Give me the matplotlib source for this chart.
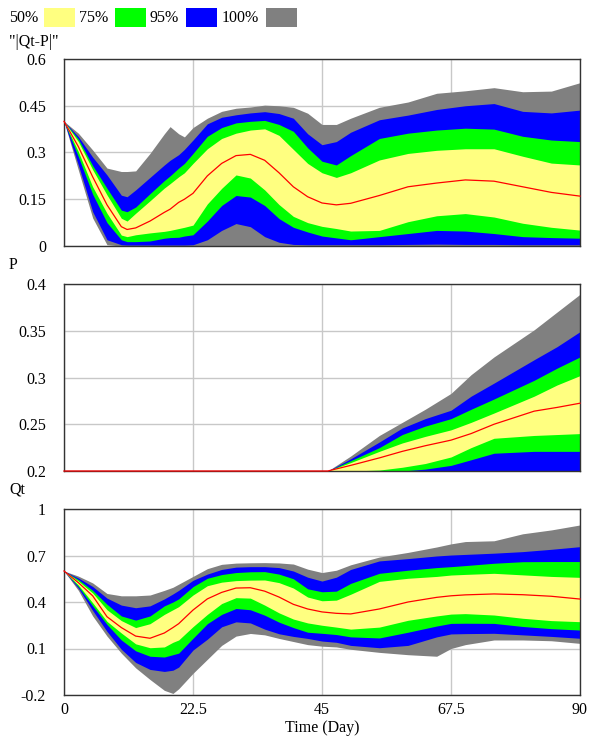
import matplotlib
matplotlib.use("Agg")
import matplotlib.pyplot as plt
from matplotlib.patches import Rectangle

plt.rcParams['font.family'] = ['Liberation Serif', 'DejaVu Serif']

# ---------------- data ----------------
LEVELS = ["50%", "75%", "95%", "100%"]
BAND_COLORS = ["#FFFF80", "#00FF00", "#0000FF", "#808080"]
MEDIAN_COLOR = "#FF0000"

X_TICKS = [0, 22.5, 45, 67.5, 90]
X_TICK_LABELS = ["0", "22.5", "45", "67.5", "90"]
X_LABEL = "Time (Day)"

# Panel 1: "|Qt-P|"
T1 = [0, 2.5, 5, 7.5, 10, 11, 12.5, 15, 17.5, 18.5, 20, 21, 22.5, 25, 27.5, 30,
      32.5, 35, 37.5, 40, 42.5, 45, 47.5, 50, 55, 60, 65, 70, 75, 80, 85, 90]
A_100_HI = [0.4, 0.362, 0.308, 0.25, 0.239, 0.239, 0.241, 0.297, 0.36, 0.383, 0.36, 0.35, 0.38, 0.41, 0.432, 0.442,
            0.446, 0.452, 0.45, 0.445, 0.426, 0.39, 0.39, 0.41, 0.445, 0.462, 0.49, 0.498, 0.508, 0.495, 0.497, 0.524]
A_95_HI = [0.4, 0.351, 0.285, 0.228, 0.163, 0.158, 0.18, 0.22, 0.26, 0.275, 0.293, 0.31, 0.34, 0.392, 0.413, 0.421,
           0.427, 0.431, 0.425, 0.41, 0.36, 0.325, 0.335, 0.365, 0.405, 0.42, 0.438, 0.45, 0.457, 0.432, 0.427, 0.436]
A_75_HI = [0.4, 0.343, 0.258, 0.185, 0.115, 0.11, 0.125, 0.168, 0.21, 0.225, 0.25, 0.265, 0.297, 0.352, 0.38, 0.395,
           0.4, 0.403, 0.39, 0.368, 0.315, 0.272, 0.26, 0.29, 0.345, 0.362, 0.372, 0.378, 0.375, 0.352, 0.34, 0.335]
A_50_HI = [0.4, 0.335, 0.245, 0.164, 0.089, 0.08, 0.105, 0.145, 0.186, 0.2, 0.222, 0.235, 0.265, 0.312, 0.345, 0.362,
           0.372, 0.376, 0.355, 0.31, 0.265, 0.235, 0.22, 0.235, 0.276, 0.297, 0.307, 0.312, 0.312, 0.288, 0.266, 0.26]
A_MED = [0.4, 0.319, 0.222, 0.132, 0.062, 0.053, 0.058, 0.08, 0.108, 0.118, 0.14, 0.15, 0.169, 0.225, 0.265, 0.29,
         0.294, 0.275, 0.235, 0.19, 0.158, 0.138, 0.132, 0.137, 0.162, 0.19, 0.202, 0.212, 0.208, 0.19, 0.172, 0.16]
A_50_LO = [0.4, 0.303, 0.19, 0.105, 0.035, 0.03, 0.036, 0.042, 0.047, 0.05, 0.056, 0.06, 0.067, 0.135, 0.185, 0.228,
           0.218, 0.18, 0.133, 0.095, 0.075, 0.063, 0.056, 0.048, 0.05, 0.078, 0.097, 0.104, 0.093, 0.073, 0.06, 0.051]
A_75_LO = [0.4, 0.287, 0.166, 0.075, 0.02, 0.014, 0.014, 0.016, 0.025, 0.027, 0.028, 0.032, 0.036, 0.08, 0.13, 0.162,
           0.157, 0.13, 0.088, 0.06, 0.045, 0.032, 0.026, 0.02, 0.03, 0.04, 0.05, 0.048, 0.04, 0.03, 0.027, 0.025]
A_95_LO = [0.4, 0.26, 0.11, 0.02, 0.004, 0.003, 0.003, 0.003, 0.003, 0.003, 0.003, 0.003, 0.004, 0.02, 0.05, 0.072,
           0.062, 0.03, 0.012, 0.005, 0.004, 0.004, 0.004, 0.004, 0.004, 0.005, 0.006, 0.005, 0.005, 0.004, 0.004, 0.004]
A_100_LO = [0.4, 0.244, 0.09, 0.004, 0, 0, 0, 0, 0, 0, 0, 0, 0, 0, 0, 0,
            0, 0, 0, 0, 0, 0, 0, 0, 0, 0, 0, 0, 0, 0, 0, 0]
A_TICKS = [0, 0.15, 0.3, 0.45, 0.6]
A_TICK_LABELS = ["0", "0.15", "0.3", "0.45", "0.6"]

# Panel 2: "P"
T2 = [0, 45, 46, 50, 55, 59, 63, 67.5, 71, 75, 82, 86, 90]
P_100_HI = [0.2, 0.2, 0.2, 0.216, 0.238, 0.252, 0.266, 0.283, 0.303, 0.322, 0.351, 0.37, 0.389]
P_95_HI = [0.2, 0.2, 0.2, 0.213, 0.231, 0.246, 0.256, 0.265, 0.28, 0.294, 0.319, 0.333, 0.349]
P_75_HI = [0.2, 0.2, 0.2, 0.211, 0.225, 0.239, 0.248, 0.256, 0.266, 0.277, 0.297, 0.31, 0.322]
P_50_HI = [0.2, 0.2, 0.2, 0.209, 0.221, 0.23, 0.237, 0.244, 0.252, 0.262, 0.28, 0.292, 0.302]
P_MED = [0.2, 0.2, 0.2, 0.206, 0.214, 0.221, 0.227, 0.233, 0.24, 0.25, 0.264, 0.268, 0.2725]
P_50_LO = [0.2, 0.2, 0.2, 0.2, 0.201, 0.204, 0.208, 0.215, 0.225, 0.235, 0.238, 0.239, 0.24]
P_75_LO = [0.2, 0.2, 0.2, 0.2, 0.2, 0.2, 0.202, 0.206, 0.212, 0.219, 0.221, 0.221, 0.221]
P_95_LO = [0.2] * 13
P_100_LO = [0.2] * 13
P_TICKS = [0.2, 0.25, 0.3, 0.35, 0.4]
P_TICK_LABELS = ["0.2", "0.25", "0.3", "0.35", "0.4"]

# Panel 3: "Qt"
T3 = [0, 2.5, 5, 7.5, 10, 12.5, 15, 17.5, 19, 20, 22.5, 25, 27.5, 30, 32.5, 35,
      37.5, 40, 42.5, 45, 47.5, 50, 55, 60, 65, 67.5, 70, 75, 80, 85, 90]
Q_100_HI = [0.6, 0.567, 0.523, 0.455, 0.44, 0.44, 0.445, 0.475, 0.495, 0.515, 0.565, 0.615, 0.643, 0.651, 0.653, 0.654,
            0.652, 0.645, 0.612, 0.59, 0.605, 0.64, 0.69, 0.72, 0.755, 0.775, 0.79, 0.795, 0.84, 0.865, 0.897]
Q_95_HI = [0.6, 0.555, 0.5, 0.425, 0.38, 0.363, 0.375, 0.42, 0.452, 0.475, 0.54, 0.58, 0.61, 0.625, 0.628, 0.628,
           0.622, 0.6, 0.56, 0.535, 0.56, 0.61, 0.665, 0.68, 0.697, 0.703, 0.707, 0.715, 0.725, 0.74, 0.757]
Q_75_HI = [0.6, 0.545, 0.475, 0.385, 0.31, 0.283, 0.31, 0.375, 0.4, 0.42, 0.499, 0.553, 0.577, 0.59, 0.595, 0.596,
           0.58, 0.55, 0.485, 0.466, 0.47, 0.52, 0.585, 0.605, 0.622, 0.628, 0.635, 0.65, 0.66, 0.661, 0.661]
Q_50_HI = [0.6, 0.535, 0.458, 0.35, 0.28, 0.235, 0.26, 0.32, 0.35, 0.37, 0.445, 0.505, 0.528, 0.538, 0.541, 0.542,
           0.525, 0.49, 0.432, 0.408, 0.412, 0.45, 0.533, 0.553, 0.565, 0.574, 0.578, 0.585, 0.575, 0.565, 0.559]
Q_MED = [0.6, 0.525, 0.44, 0.305, 0.235, 0.18, 0.166, 0.2, 0.235, 0.26, 0.348, 0.42, 0.462, 0.49, 0.492, 0.47,
         0.432, 0.385, 0.355, 0.336, 0.327, 0.323, 0.355, 0.4, 0.43, 0.44, 0.446, 0.452, 0.447, 0.437, 0.419]
Q_50_LO = [0.6, 0.51, 0.395, 0.275, 0.2, 0.13, 0.105, 0.11, 0.14, 0.155, 0.241, 0.32, 0.39, 0.428, 0.425, 0.38,
           0.33, 0.29, 0.265, 0.25, 0.238, 0.225, 0.238, 0.282, 0.31, 0.322, 0.325, 0.316, 0.295, 0.28, 0.273]
Q_75_LO = [0.6, 0.5, 0.375, 0.255, 0.155, 0.085, 0.05, 0.045, 0.06, 0.07, 0.166, 0.26, 0.32, 0.358, 0.35, 0.315,
           0.27, 0.235, 0.205, 0.198, 0.19, 0.175, 0.168, 0.205, 0.245, 0.262, 0.263, 0.262, 0.242, 0.228, 0.219]
Q_95_LO = [0.6, 0.49, 0.345, 0.21, 0.095, 0.01, -0.035, -0.048, -0.04, -0.02, 0.09, 0.16, 0.24, 0.272, 0.265, 0.225,
           0.195, 0.178, 0.165, 0.148, 0.14, 0.12, 0.105, 0.12, 0.175, 0.194, 0.196, 0.198, 0.188, 0.178, 0.166]
Q_100_LO = [0.6, 0.475, 0.31, 0.18, 0.07, -0.025, -0.1, -0.17, -0.19, -0.16, -0.06, 0.03, 0.12, 0.18, 0.197, 0.188,
            0.165, 0.145, 0.125, 0.115, 0.11, 0.095, 0.075, 0.06, 0.05, 0.1, 0.125, 0.155, 0.155, 0.15, 0.133]
Q_TICKS = [-0.2, 0.1, 0.4, 0.7, 1.0]
Q_TICK_LABELS = ["-0.2", "0.1", "0.4", "0.7", "1"]

PANEL_TITLES = ['"|Qt-P|"', "P", "Qt"]

# ---------------- figure ----------------
W, H = 590, 738
FS = 11.5
fig = plt.figure(figsize=(W / 100, H / 100), dpi=100)


def rect(l, t, r, b):
    return [l / W, 1 - b / H, (r - l) / W, (b - t) / H]


panels = [
    (rect(64, 59, 580, 246), T1, [A_100_LO, A_95_LO, A_75_LO, A_50_LO], [A_100_HI, A_95_HI, A_75_HI, A_50_HI],
     A_MED, (0, 0.6), A_TICKS, A_TICK_LABELS, 42),
    (rect(64, 284, 580, 471), T2, [P_100_LO, P_95_LO, P_75_LO, P_50_LO], [P_100_HI, P_95_HI, P_75_HI, P_50_HI],
     P_MED, (0.2, 0.4), P_TICKS, P_TICK_LABELS, 265),
    (rect(64, 509, 580, 695), T3, [Q_100_LO, Q_95_LO, Q_75_LO, Q_50_LO], [Q_100_HI, Q_95_HI, Q_75_HI, Q_50_HI],
     Q_MED, (-0.2, 1.0), Q_TICKS, Q_TICK_LABELS, 490),
]

band_order_colors = BAND_COLORS[::-1]  # 100, 95, 75, 50

for i, (r, t, los, his, med, ylim, yt, ytl, title_y) in enumerate(panels):
    ax = fig.add_axes(r)
    for lo, hi, c in zip(los, his, band_order_colors):
        ax.fill_between(t, lo, hi, color=c, linewidth=0, zorder=2)
    ax.plot(t, med, color=MEDIAN_COLOR, linewidth=0.9, zorder=4, clip_on=False)
    ax.set_xlim(0, 90)
    ax.set_ylim(*ylim)
    ax.set_xticks(X_TICKS)
    ax.set_yticks(yt)
    ax.set_yticklabels(ytl, fontsize=FS)
    if i == 2:
        ax.set_xticklabels(X_TICK_LABELS, fontsize=FS)
    else:
        ax.set_xticklabels([])
    ax.tick_params(axis='both', length=0)
    ax.tick_params(axis='y', pad=13)
    ax.tick_params(axis='x', pad=5)
    ax.grid(True, color="#C8C8C8", linewidth=1.0, zorder=1)
    ax.set_axisbelow(True)
    for s in ax.spines.values():
        s.set_color("#333333")
        s.set_linewidth(1.0)
        s.set_zorder(3)
    fig.text(9 / W, 1 - title_y / H, PANEL_TITLES[i], fontsize=FS, ha='left', va='center')

fig.text(322 / W, 1 - 728 / H, X_LABEL, fontsize=FS, ha='center', va='center')

# legend
leg_text_x = [9, 79, 150, 222]
leg_box_x = [44.3, 115, 185.7, 265.7]
for lab, c, tx, bx in zip(LEVELS, BAND_COLORS, leg_text_x, leg_box_x):
    fig.text(tx / W, 1 - 18 / H, lab, fontsize=FS, ha='left', va='center')
    fig.patches.append(Rectangle((bx / W, 1 - 26.7 / H), 31 / W, 18.4 / H,
                                 transform=fig.transFigure, facecolor=c, edgecolor='none'))

fig.savefig("out.png", dpi=100)
